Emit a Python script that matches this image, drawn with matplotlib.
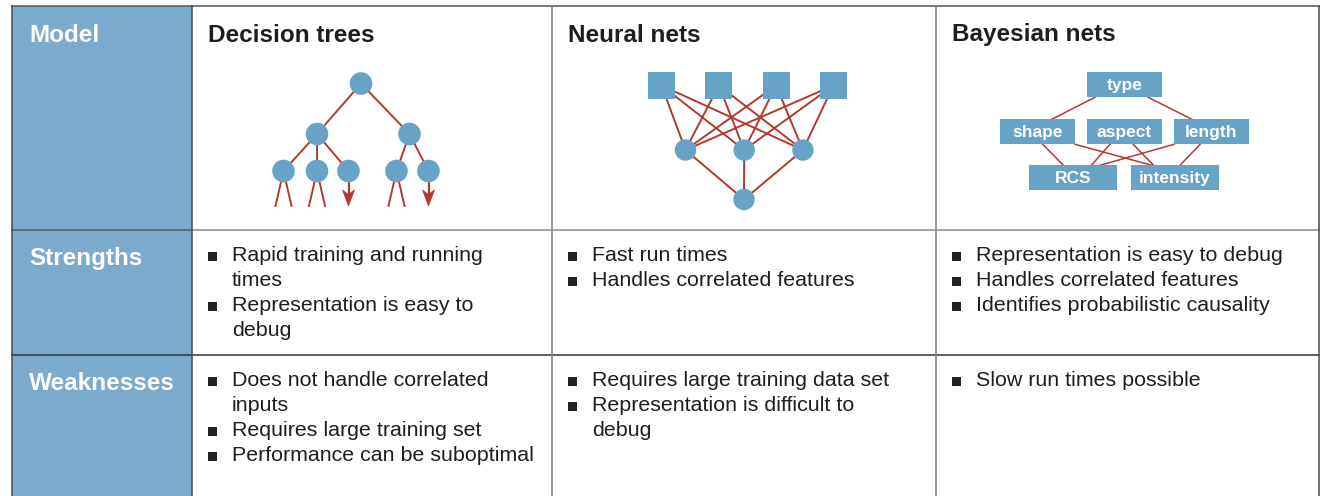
import matplotlib.pyplot as plt
from matplotlib.patches import Rectangle, Circle, Polygon

plt.rcParams['font.family'] = ['Liberation Sans', 'DejaVu Sans']

# ---- table content ----
row_labels = ["Model", "Strengths", "Weaknesses"]
models = ["Decision trees", "Neural nets", "Bayesian nets"]
strengths = [
    ["Rapid training and running\ntimes", "Representation is easy to\ndebug"],
    ["Fast run times", "Handles correlated features"],
    ["Representation is easy to debug", "Handles correlated features",
     "Identifies probabilistic causality"],
]
weaknesses = [
    ["Does not handle correlated\ninputs", "Requires large training set",
     "Performance can be suboptimal"],
    ["Requires large training data set", "Representation is difficult to\ndebug"],
    ["Slow run times possible"],
]

# ---- diagram structure ----
tree_levels = [["root"], ["a", "b"], ["a1", "a2", "a3", "b1", "b2"]]
tree_edges = [("root", "a"), ("root", "b"), ("a", "a1"), ("a", "a2"), ("a", "a3"),
              ("b", "b1"), ("b", "b2")]
tree_split_leaves = ["a1", "a2", "b1"]
tree_arrow_leaves = ["a3", "b2"]

nn_inputs = 4
nn_hidden = 3
nn_outputs = 1

bn_nodes = ["type", "shape", "aspect", "length", "RCS", "intensity"]
bn_edges = [("type", "shape"), ("type", "length"), ("shape", "RCS"), ("shape", "intensity"),
            ("aspect", "RCS"), ("aspect", "intensity"), ("length", "RCS"), ("length", "intensity")]

# ---- layout (pixels) ----
W, H = 1327, 496
col_x = [12, 192, 552, 936, 1319]
row_y = [6, 230, 355, H]
label_base = [41.5, 265.5, 390.5]
body_base = [None, 261, 386]
line_h = 25

head_blue = '#7aaacd'
node_blue = '#66a3c7'
red = '#b13a2c'
txt = '#1e1e1e'

fig = plt.figure(figsize=(W / 100, H / 100), dpi=100)
ax = fig.add_axes([0, 0, 1, 1])
ax.set_xlim(0, W)
ax.set_ylim(H, 0)
ax.axis('off')

# table background and grid
ax.add_patch(Rectangle((col_x[0], row_y[0]), col_x[1] - col_x[0], H - row_y[0],
                       facecolor=head_blue, edgecolor='none', zorder=0))
lw = 1.1
ax.plot([col_x[0], col_x[1]], [row_y[1]] * 2, color='#4f6070', lw=lw, zorder=2)
ax.plot([col_x[1], col_x[4]], [row_y[1]] * 2, color='#8a8a8a', lw=lw, zorder=2)
ax.plot([col_x[0], col_x[4]], [row_y[2]] * 2, color='#333333', lw=lw, zorder=2)
ax.plot([col_x[0], col_x[4]], [row_y[0]] * 2, color='#555555', lw=lw, zorder=2)
for i, x in enumerate(col_x):
    c = '#7a7a7a' if i in (2, 3) else '#4a4a4a'
    ax.plot([x, x], [row_y[0], H], color=c, lw=lw, zorder=2)

# row labels
for lab, yb in zip(row_labels, label_base):
    ax.text(col_x[0] + 17, yb, lab, color='white', fontsize=17.5, fontweight='bold',
            va='baseline', ha='left', zorder=3)

# column headers
for j, m in enumerate(models):
    ax.text(col_x[j + 1] + 16, label_base[0], m, color=txt, fontsize=17.5,
            fontweight='bold', va='baseline', ha='left', zorder=3)


def bullets(items, x0, yb):
    for item in items:
        ax.add_patch(Rectangle((x0 + 16, yb - 9), 8.5, 8.5, facecolor='#222222',
                               edgecolor='none', zorder=3))
        lines = item.split('\n')
        for k, line in enumerate(lines):
            ax.text(x0 + 40, yb + k * line_h, line, color=txt, fontsize=15.4,
                    va='baseline', ha='left', zorder=3)
        yb += len(lines) * line_h


for j in range(3):
    bullets(strengths[j], col_x[j + 1], body_base[1])
    bullets(weaknesses[j], col_x[j + 1], body_base[2])

# ---- decision tree ----
tree_pos = {"root": (361, 83.5), "a": (317, 134), "b": (409.5, 134),
            "a1": (283.5, 171), "a2": (317, 171), "a3": (348.5, 171),
            "b1": (396.5, 171), "b2": (428.5, 171)}
r_tree = 11.3
for p, c in tree_edges:
    (x1, y1), (x2, y2) = tree_pos[p], tree_pos[c]
    ax.plot([x1, x2], [y1, y2], color=red, lw=1.4, zorder=4)
for n in tree_split_leaves:
    x, y = tree_pos[n]
    for dx in (-8, 8):
        ax.plot([x, x + dx], [y, 206], color=red, lw=1.4, zorder=4)
for n in tree_arrow_leaves:
    x, y = tree_pos[n]
    ax.plot([x, x], [y, 196], color=red, lw=1.6, zorder=4)
    ax.add_patch(Polygon([(x, 206), (x - 6, 190), (x, 194.5), (x + 6, 190)],
                         closed=True, facecolor=red, edgecolor=red, lw=0.5, zorder=4))
for lvl in tree_levels:
    for n in lvl:
        ax.add_patch(Circle(tree_pos[n], r_tree, facecolor=node_blue, edgecolor='none', zorder=5))

# ---- neural net ----
in_x = [661.5 + 57.3 * i for i in range(nn_inputs)]
in_y = 85.5
hid_x = [685.5 + 58.7 * i for i in range(nn_hidden)]
hid_y = 150
out_x = [744]
out_y = 199.5
sq = 27
for xi in in_x:
    for xh in hid_x:
        ax.plot([xi, xh], [in_y, hid_y], color=red, lw=1.4, zorder=4)
for xh in hid_x:
    for xo in out_x:
        ax.plot([xh, xo], [hid_y, out_y], color=red, lw=1.4, zorder=4)
for xi in in_x:
    ax.add_patch(Rectangle((xi - sq / 2, in_y - sq / 2), sq, sq, facecolor=node_blue,
                           edgecolor='none', zorder=5))
for xh in hid_x:
    ax.add_patch(Circle((xh, hid_y), 10.7, facecolor=node_blue, edgecolor='none', zorder=5))
for xo in out_x:
    ax.add_patch(Circle((xo, out_y), 10.7, facecolor=node_blue, edgecolor='none', zorder=5))

# ---- bayesian net ----
bn_box = {"type": (1086.7, 72.3, 75), "shape": (1000, 119.3, 75),
          "aspect": (1086.7, 119.3, 75), "length": (1174, 119.3, 74.7),
          "RCS": (1029.3, 165.3, 87.4), "intensity": (1130.7, 165.3, 88)}
bn_h = 25
bn_anchor = {("type", "shape"): (0.11, 0.69), ("type", "length"): (0.82, 0.24),
             ("shape", "RCS"): (0.57, 0.39), ("shape", "intensity"): (1.0, 0.24),
             ("aspect", "RCS"): (0.31, 0.71), ("aspect", "intensity"): (0.62, 0.26),
             ("length", "RCS"): (0.0, 0.81), ("length", "intensity"): (0.35, 0.56)}
for p, c in bn_edges:
    fp, fc = bn_anchor[(p, c)]
    xp, yp, wp = bn_box[p]
    xc, yc, wc = bn_box[c]
    ax.plot([xp + fp * wp, xc + fc * wc], [yp + bn_h, yc], color=red, lw=1.1, zorder=4)
for n in bn_nodes:
    x, y, w = bn_box[n]
    ax.add_patch(Rectangle((x, y), w, bn_h, facecolor=node_blue, edgecolor='none', zorder=5))
    ax.text(x + w / 2, y + bn_h / 2 + 0.5, n, color='white', fontsize=12.5, fontweight='bold',
            ha='center', va='center', zorder=6)

fig.savefig('out.png', dpi=100)
